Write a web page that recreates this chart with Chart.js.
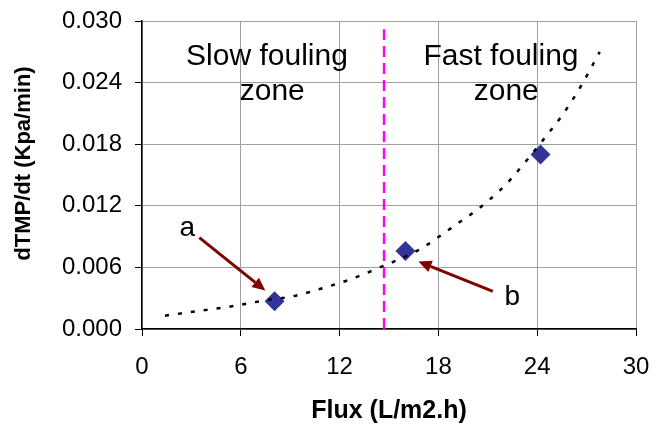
<!DOCTYPE html>
<html>
<head>
<meta charset="utf-8">
<script src="https://cdn.jsdelivr.net/npm/chart.js@4.4.1/dist/chart.umd.min.js"></script>
<style>
  html, body { margin: 0; padding: 0; background: #ffffff; }
  #wrap { width: 656px; height: 425px; }
</style>
</head>
<body>
<div id="wrap"><canvas id="c" width="656" height="425"></canvas></div>
<script>
// Measured fouling rates
const fluxValues = [8.05, 16.0, 24.2];
const rateValues = [0.0027, 0.0076, 0.0170];

// Exponential trend line, sampled along its path
const trendFlux = [1.4, 3.2, 5.8, 7.5, 9.2, 10.8, 12.6, 14.3, 16.8, 19.1, 20.5, 21.8, 22.4, 24.5, 25.6, 26.6, 27.8];
const trendRate = [0.0013, 0.0017, 0.0023, 0.0028, 0.0032, 0.0039, 0.0048, 0.0059, 0.0077, 0.0102, 0.0118, 0.0136, 0.0146, 0.0187, 0.0210, 0.0235, 0.0270];

// Critical flux separating the two zones
const criticalFlux = [14.7, 14.7];
const criticalSpan = [0, 0.0292];

// Axis ticks
const xTicks = [0, 6, 12, 18, 24, 30];
const yTicks = [0.000, 0.006, 0.012, 0.018, 0.024, 0.030];

const FONT = '"Liberation Sans", Arial, Helvetica, sans-serif';
Chart.defaults.font.family = FONT;
Chart.defaults.color = '#000000';

const toPoints = (xs, ys) => xs.map((v, i) => ({ x: v, y: ys[i] }));

// Zone labels, point labels, arrows and axis titles
const annotate = {
  id: 'annotate',
  afterDatasetsDraw(chart) {
    const { ctx } = chart;
    const x = chart.scales.x, y = chart.scales.y;
    const px = v => x.getPixelForValue(v);
    const py = v => y.getPixelForValue(v);

    ctx.save();
    // arrows
    const arrow = (x0, y0, x1, y1) => {
      const a0 = px(x0), b0 = py(y0), a1 = px(x1), b1 = py(y1);
      const ang = Math.atan2(b1 - b0, a1 - a0);
      const head = 13, half = 6;
      const bx = a1 - Math.cos(ang) * head, by = b1 - Math.sin(ang) * head;
      ctx.strokeStyle = '#800000';
      ctx.fillStyle = '#800000';
      ctx.lineWidth = 3;
      ctx.beginPath();
      ctx.moveTo(a0, b0);
      ctx.lineTo(bx, by);
      ctx.stroke();
      ctx.beginPath();
      ctx.moveTo(a1, b1);
      ctx.lineTo(bx + Math.sin(ang) * half, by - Math.cos(ang) * half);
      ctx.lineTo(bx - Math.sin(ang) * half, by + Math.cos(ang) * half);
      ctx.closePath();
      ctx.fill();
    };
    arrow(3.48, 0.0089, 7.49, 0.00375);
    arrow(21.31, 0.00366, 16.79, 0.00657);

    // text labels
    ctx.fillStyle = '#000000';
    ctx.textAlign = 'center';
    ctx.textBaseline = 'alphabetic';
    ctx.font = '30px ' + FONT;
    ctx.fillText('Slow fouling', px(7.59), py(0.0257));
    ctx.fillText('zone', px(7.91), py(0.0223));
    ctx.fillText('Fast fouling', px(21.8), py(0.0257));
    ctx.fillText('zone', px(22.12), py(0.0223));
    ctx.font = '28px ' + FONT;
    ctx.textBaseline = 'middle';
    ctx.fillText('a', px(2.75), py(0.0098));
    ctx.fillText('b', px(22.48), py(0.0031));

    // axis titles
    ctx.font = 'bold 25px ' + FONT;
    ctx.textBaseline = 'alphabetic';
    ctx.fillText('Flux (L/m2.h)', 389, 418);
    ctx.save();
    ctx.translate(24, 163.5);
    ctx.rotate(-Math.PI / 2);
    ctx.textBaseline = 'middle';
    ctx.font = 'bold 22px ' + FONT;
    ctx.fillText('dTMP/dt (Kpa/min)', 0, 0);
    ctx.restore();
    ctx.restore();
  }
};

const zeroPad = s => { s.paddingLeft = 0; s.paddingRight = 0; s.paddingTop = 0; s.paddingBottom = 0; };

new Chart(document.getElementById('c'), {
  type: 'scatter',
  data: {
    datasets: [
      {
        label: 'trend',
        data: toPoints(trendFlux, trendRate),
        showLine: true,
        borderColor: '#000000',
        borderWidth: 2.5,
        borderDash: [4, 9],
        pointRadius: 0,
        cubicInterpolationMode: 'monotone',
        order: 1
      },
      {
        label: 'critical',
        data: toPoints(criticalFlux, criticalSpan),
        showLine: true,
        borderColor: '#ff00ff',
        borderWidth: 2.5,
        borderDash: [11, 6],
        pointRadius: 0,
        order: 2
      },
      {
        label: 'dTMP/dt',
        data: toPoints(fluxValues, rateValues),
        pointStyle: 'rectRot',
        pointRadius: 10,
        pointBackgroundColor: '#333399',
        pointBorderColor: '#333399',
        pointBorderWidth: 0,
        showLine: false,
        order: 3
      }
    ]
  },
  options: {
    responsive: false,
    animation: false,
    events: [],
    layout: { padding: { left: 0, right: 20, top: 21, bottom: 0 } },
    plugins: {
      legend: { display: false },
      tooltip: { enabled: false }
    },
    scales: {
      x: {
        type: 'linear',
        min: 0, max: 30,
        afterBuildTicks: s => { s.ticks = xTicks.map(v => ({ value: v })); },
        afterFit: s => { s.height = 96; zeroPad(s); },
        ticks: {
          font: { size: 24 },
          color: '#000000',
          padding: 17,
          callback: v => String(v),
          maxRotation: 0
        },
        grid: {
          color: '#a0a0a0',
          lineWidth: 1,
          tickColor: '#000000',
          tickLength: 7
        },
        border: { color: '#000000', width: 1.5 }
      },
      y: {
        type: 'linear',
        min: 0, max: 0.030,
        afterBuildTicks: s => { s.ticks = yTicks.map(v => ({ value: v })); },
        afterFit: s => { s.width = 142; zeroPad(s); },
        ticks: {
          font: { size: 24 },
          color: '#000000',
          padding: 13,
          callback: v => Number(v).toFixed(3)
        },
        grid: {
          color: '#a0a0a0',
          lineWidth: 1,
          tickColor: '#000000',
          tickLength: 7
        },
        border: { color: '#000000', width: 1.5 }
      }
    }
  },
  plugins: [annotate]
});
</script>
</body>
</html>
